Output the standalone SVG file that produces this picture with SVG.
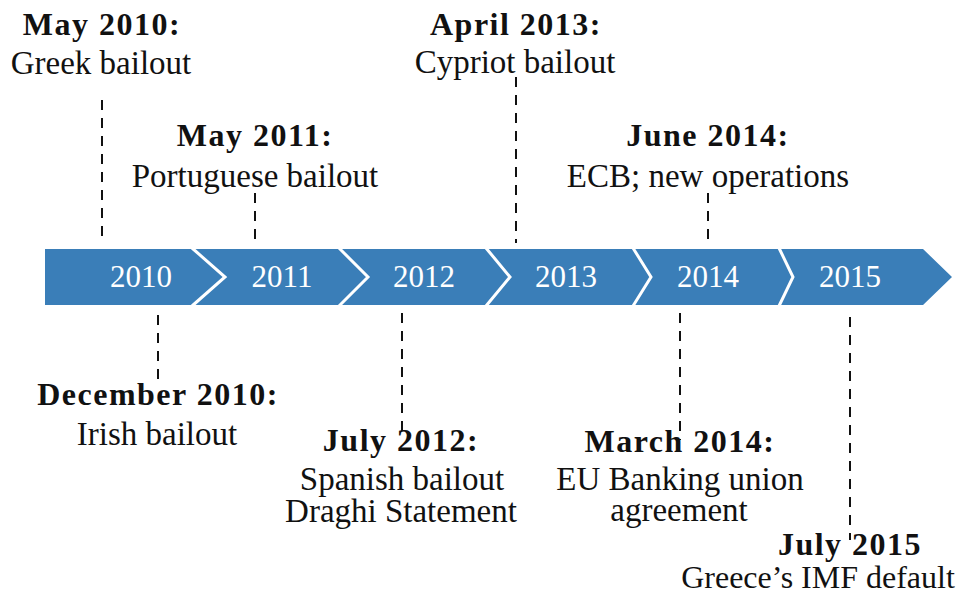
<svg xmlns="http://www.w3.org/2000/svg" width="967" height="596" viewBox="0 0 967 596">
<style>
.seg{fill:#3A7EB8}
.div{fill:none;stroke:#ffffff;stroke-width:3;stroke-linejoin:miter}
.yr{font-family:'Liberation Serif','DejaVu Serif',serif;font-size:31px;fill:#ffffff;text-anchor:middle}
.t{font-family:'Liberation Serif','DejaVu Serif',serif;font-size:32px;font-weight:bold;fill:#111;text-anchor:middle;letter-spacing:1.5px}
.d{font-family:'Liberation Serif','DejaVu Serif',serif;font-size:33px;font-weight:normal;fill:#111;text-anchor:middle}
.c{fill:none;stroke:#111;stroke-width:2;stroke-dasharray:10 8}
</style>
<rect width="967" height="596" fill="#ffffff"/>
<g id="timeline">
<g id="y2010"><polygon class="seg" points="45,249 192,249 225,277 192,305 45,305"/><text class="yr" x="141" y="287">2010</text></g>
<g id="y2011"><polygon class="seg" points="192,249 339,249 368,277 339,305 192,305 225,277"/><text class="yr" x="282" y="287">2011</text></g>
<g id="y2012"><polygon class="seg" points="339,249 486,249 510,277 486,305 339,305 368,277"/><text class="yr" x="424" y="287">2012</text></g>
<g id="y2013"><polygon class="seg" points="486,249 633,249 651,277 633,305 486,305 510,277"/><text class="yr" x="566" y="287">2013</text></g>
<g id="y2014"><polygon class="seg" points="633,249 779,249 793,277 779,305 633,305 651,277"/><text class="yr" x="708" y="287">2014</text></g>
<g id="y2015"><polygon class="seg" points="779,249 923,249 952,277 923,305 779,305 793,277"/><text class="yr" x="850" y="287">2015</text></g>
<g id="dividers">
<polyline class="div" points="192,248 225,277 192,306"/>
<polyline class="div" points="339,248 368,277 339,306"/>
<polyline class="div" points="486,248 510,277 486,306"/>
<polyline class="div" points="633,248 651,277 633,306"/>
<polyline class="div" points="779,248 793,277 779,306"/>
</g>
</g>
<g id="connectors">
<line class="c" x1="102" y1="100" x2="102" y2="243"/>
<line class="c" x1="255" y1="193" x2="255" y2="243"/>
<line class="c" x1="516" y1="77" x2="516" y2="243"/>
<line class="c" x1="708" y1="193" x2="708" y2="243"/>
<line class="c" x1="158" y1="315" x2="158" y2="383"/>
<line class="c" x1="402" y1="313" x2="402" y2="432"/>
<line class="c" x1="680" y1="313" x2="680" y2="440"/>
<line class="c" x1="850" y1="317" x2="850" y2="540"/>
</g>
<g id="ev-may2010"><text class="t" x="102" y="35">May 2010:</text><text class="d" x="101" y="74">Greek bailout</text></g>
<g id="ev-may2011"><text class="t" x="255" y="146">May 2011:</text><text class="d" x="255" y="187">Portuguese bailout</text></g>
<g id="ev-apr2013"><text class="t" x="516" y="35">April 2013:</text><text class="d" x="515" y="73">Cypriot bailout</text></g>
<g id="ev-jun2014"><text class="t" x="708" y="146">June 2014:</text><text class="d" x="708" y="187">ECB; new operations</text></g>
<g id="ev-dec2010"><text class="t" x="158" y="405">December 2010:</text><text class="d" x="157" y="445">Irish bailout</text></g>
<g id="ev-jul2012"><text class="t" x="401" y="451">July 2012:</text><text class="d" x="402" y="490">Spanish bailout</text><text class="d" x="401" y="522">Draghi Statement</text></g>
<g id="ev-mar2014"><text class="t" x="680" y="452">March 2014:</text><text class="d" x="680" y="490">EU Banking union</text><text class="d" x="679" y="521">agreement</text></g>
<g id="ev-jul2015"><text class="t" x="850" y="555">July 2015</text><text class="d" x="818" y="588" style="font-size:32px">Greece’s IMF default</text></g>
</svg>
